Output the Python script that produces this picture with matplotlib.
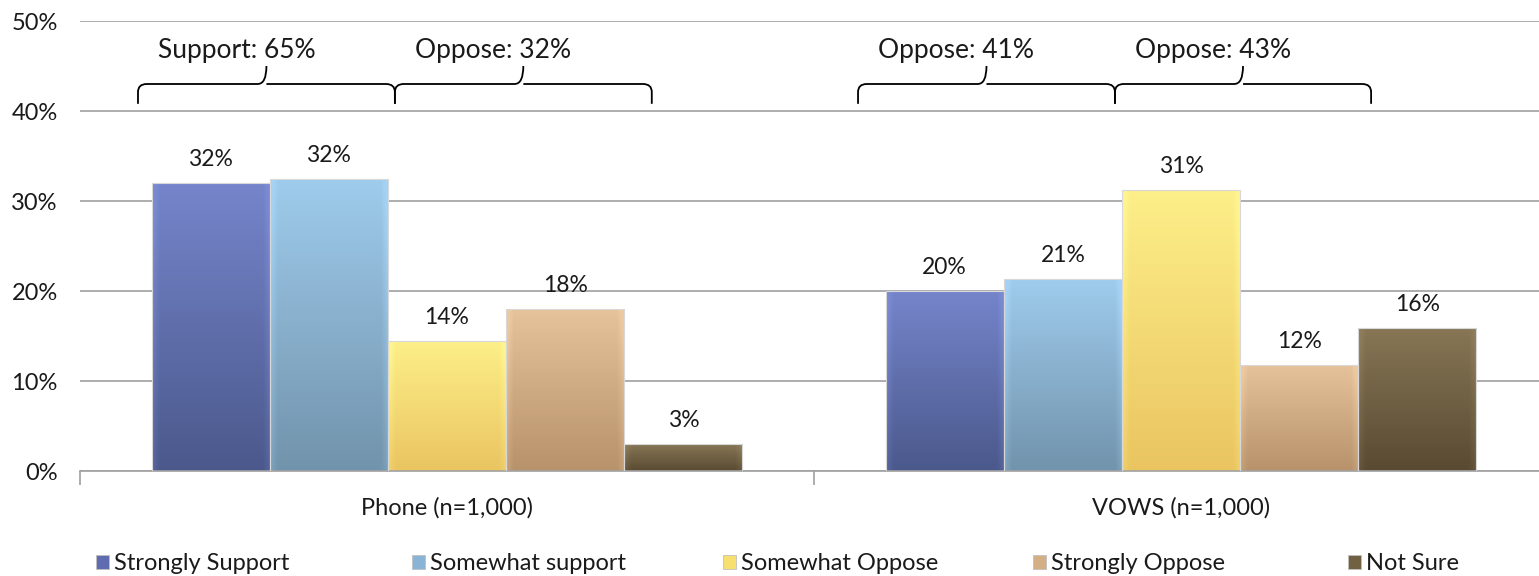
import numpy as np
import matplotlib.pyplot as plt
from matplotlib.colors import LinearSegmentedColormap
from matplotlib.patches import Patch
from matplotlib.path import Path
from matplotlib.patches import PathPatch

plt.rcParams['font.family'] = ['Lato', 'DejaVu Sans']

# data
groups = ['Phone (n=1,000)', 'VOWS (n=1,000)']
series = ['Strongly Support', 'Somewhat support', 'Somewhat Oppose', 'Strongly Oppose', 'Not Sure']
values = [
    [32.0, 32.4, 14.4, 18.0, 3.0],   # Phone
    [20.0, 21.3, 31.2, 11.8, 15.9],  # VOWS
]
labels = [
    ['32%', '32%', '14%', '18%', '3%'],
    ['20%', '21%', '31%', '12%', '16%'],
]
# brace annotations: (start, end, text) in category units
braces = [
    (0.079, 0.429, 'Support: 65%'),
    (0.429, 0.779, 'Oppose: 32%'),
    (1.060, 1.410, 'Oppose: 41%'),
    (1.410, 1.759, 'Oppose: 43%'),
]

# top / bottom colours of each series gradient
top_cols = ['#7a8ad2', '#a4d2f4', '#fff48e', '#ecc9a0', '#8c7c5a']
bot_cols = ['#485688', '#6f90a8', '#e9c25e', '#b48f68', '#574730']
legend_cols = ['#5f6db0', '#8ab4d6', '#f8e070', '#d4ae84', '#716140']
legend_x = [96, 412, 723, 1033, 1348]   # pixel left of each legend entry

txt_col = '#1a1a1a'
grey = '#a0a0a0'

fig = plt.figure(figsize=(15.39, 5.76), dpi=100)
ax = fig.add_axes([80 / 1539, 1 - 471 / 576, 1468 / 1539, 450 / 576])

group_w = 0.805
bw = group_w / len(series)

for g, vals in enumerate(values):
    left0 = g + 0.5 - group_w / 2
    for i, v in enumerate(vals):
        x0 = left0 + i * bw
        cmap = LinearSegmentedColormap.from_list('c', [bot_cols[i], top_cols[i]])
        grad = np.linspace(0, 1, 256).reshape(-1, 1)
        # lighter edges for a bevel look
        xs = np.linspace(0, 1, 64)
        edge = np.clip(1 - np.minimum(xs, 1 - xs) / 0.06, 0, 1) * 0.25
        img = np.clip(grad * 0.85 + 0.05 + edge[None, :], 0, 1)
        im = ax.imshow(img, cmap=cmap, vmin=0, vmax=1, origin='lower',
                       extent=[x0, x0 + bw, 0, v], aspect='auto', zorder=2)
        rect = plt.Rectangle((x0, 0), bw, v, facecolor='none',
                             edgecolor='#d8d8d8', lw=0.8, zorder=3)
        ax.add_patch(rect)
        im.set_clip_path(rect)
        ax.annotate(labels[g][i], (x0 + bw / 2, v), xytext=(0, 17),
                    textcoords='offset points', ha='center', va='center',
                    fontsize=16.5, color=txt_col)

# braces
y_end, y_mid, y_peak = 40.8, 43.0, 45.0
for a, b, txt in braces:
    m = (a + b) / 2
    r = 0.012
    verts = [(a, y_end), (a, y_mid - 0.9), (a, y_mid), (a + r, y_mid),
             (m - r, y_mid), (m, y_mid), (m, y_peak),
             (m, y_mid), (m + r, y_mid),
             (b - r, y_mid), (b, y_mid), (b, y_mid - 0.9), (b, y_end)]
    codes = [Path.MOVETO, Path.LINETO, Path.CURVE3, Path.CURVE3,
             Path.LINETO, Path.CURVE3, Path.CURVE3,
             Path.MOVETO, Path.CURVE3,
             Path.LINETO, Path.CURVE3, Path.CURVE3, Path.LINETO]
    ax.add_patch(PathPatch(Path(verts, codes), facecolor='none',
                           edgecolor='black', lw=1.3, zorder=4))
    ax.text(m - 0.041, 46.7, txt, ha='center', va='center', fontsize=19, color=txt_col)

ax.set_xlim(0, 2)
ax.set_ylim(0, 50)
ax.set_yticks(np.arange(0, 51, 10))
ax.set_yticklabels([f'{t}%' for t in range(0, 51, 10)], fontsize=17, color=txt_col)
ax.yaxis.grid(True, color=grey, lw=1.2, zorder=0)
ax.tick_params(axis='y', length=0, pad=16)

ax.set_xticks([0, 1, 2])
ax.set_xticklabels([])
ax.set_xticks([0.5, 1.5], minor=True)
ax.set_xticklabels(groups, minor=True, fontsize=17, color=txt_col)
ax.tick_params(axis='x', which='major', length=10, color=grey, width=1.2)
ax.tick_params(axis='x', which='minor', length=0, pad=19)

for s in ['top', 'right', 'left']:
    ax.spines[s].set_visible(False)
ax.spines['bottom'].set_color(grey)
ax.spines['bottom'].set_linewidth(1.2)
ax.set_axisbelow(True)

# one legend per entry so spacing follows the reference
for name, col, px in zip(series, legend_cols, legend_x):
    fig.legend([Patch(facecolor=col, edgecolor='#c0c0c0', lw=0.6)], [name],
               loc='center left', bbox_to_anchor=(px / 1539, 1 - 564 / 576),
               frameon=False, fontsize=17, borderpad=0, borderaxespad=0,
               handlelength=0.55, handleheight=0.55, handletextpad=0.2,
               labelcolor=txt_col)

fig.savefig('out.png', dpi=100)
